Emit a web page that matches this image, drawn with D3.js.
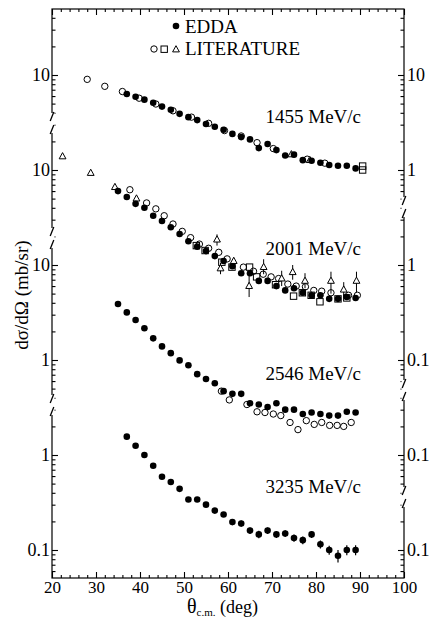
<!DOCTYPE html>
<html>
<head>
<meta charset="utf-8">
<style>
    body { margin: 0; background: #fff; }
    svg text { font-family: "Liberation Serif", "Times New Roman", serif; fill: #000; }
    .axis path { display: none; }
    .axis line { stroke: #000; stroke-width: 1.1; }
    .axis text { font-size: 18px; }
    .xaxis text { font-size: 17px; }
</style>
</head>
<body>
<svg class="chart" width="429" height="618"></svg>
<script src="https://d3js.org/d3.v7.min.js"></script>
<script>

// ---- data ----
var momenta = ["1455 MeV/c", "2001 MeV/c", "2546 MeV/c", "3235 MeV/c"];
// each panel is shifted down by one decade
var panelScale = [1, 10, 100, 1000];

// EDDA points [theta, dsigma/domega]
var edda1455 = [[37,6.3],[39,5.9],[41,5.5],[43,5.1],[45,4.65],[47,4.3],[49,3.9],[51,3.6],[53,3.35],[55,3.05],
    [57,2.85],[59,2.65],[61,2.4],[63,2.22],[65,2.1],[67,1.7],[69,1.88],[71,1.62],[73,1.42],[75,1.45],
    [77,1.27],[79,1.25],[81,1.19],[83,1.13],[85,1.11],[87,1.11],[89,1.04]];
var edda2001 = [[35,6.0],[37,5.2],[39,4.4],[41,4.0],[43,3.3],[45,2.9],[47,2.5],[49,2.12],[51,1.78],[53,1.56],
    [55,1.4],[57,1.24],[59,1.1],[61,0.97],[63,0.82],[65,0.82],[67,0.68],[69,0.68],[71,0.6],[73,0.54],
    [75,0.57],[77,0.51],[79,0.48],[81,0.48],[83,0.44],[85,0.44],[87,0.46],[89,0.45]];
var edda2546 = [[35,3.89],[37,3.17],[39,2.64],[41,2.16],[43,1.69],[45,1.39],[47,1.18],[49,0.99],[51,0.88],[53,0.71],
    [55,0.63],[57,0.57],[59,0.47],[61,0.44],[63,0.44],[65,0.35],[67,0.34],[69,0.32],[71,0.35],[73,0.30],
    [75,0.30],[77,0.27],[79,0.28],[81,0.27],[83,0.26],[85,0.26],[87,0.285],[89,0.28]];
// [theta, value, error]
var edda3235 = [[37,1.56,0],[39,1.25,0],[41,1.0,0],[43,0.77,0],[45,0.59,0],[47,0.52,0],[49,0.44,0],[51,0.34,0],
    [53,0.34,0],[55,0.30,0],[57,0.26,0],[59,0.236,0.008],[61,0.197,0.015],[63,0.19,0.014],[65,0.16,0.012],
    [67,0.146,0.013],[69,0.16,0.013],[71,0.146,0.012],[73,0.149,0.012],[75,0.134,0.012],[77,0.127,0.012],
    [79,0.146,0.012],[81,0.115,0.011],[83,0.1,0.011],[85,0.087,0.013],[87,0.1,0.012],[89,0.1,0.012]];

// literature points
var litCircles1455 = [[28,9.0],[32,7.6],[36,6.7],[39.8,5.7],[43.6,4.95],[47.5,4.2],[51.7,3.6],[55.6,3.1],
    [59.2,2.6],[63,2.28],[66.6,1.94],[70.3,1.68],[78,1.3],[82,1.18]];
var litTriangles1455 = [[74.4,1.46],[78.6,1.27]];
var litSquares1455 = [[90.6,1.0],[90.6,1.1]];

// [theta, value, low, high]
var litTriangles2001 = [[22.4,13.9,13.9,13.9],[28.8,9.3,9.3,9.3],[34.3,6.6,6.6,6.6],[39.2,5.0,5.0,5.0],
    [57.5,1.85,1.6,2.1],[58.3,0.92,0.8,1.05],[61.3,1.1,1.0,1.2],[64.8,0.6,0.46,0.8],[68.1,0.95,0.8,1.15],
    [72.2,0.72,0.6,0.87],[74.7,0.84,0.7,1.0],[77.5,0.68,0.57,0.82],[83.4,0.68,0.5,0.85],[86.3,0.55,0.45,0.66],
    [89.2,0.68,0.52,0.85]];
var litCircles2001 = [[37.7,6.2],[41.5,4.5],[43.6,3.9],[45.5,3.3],[47.5,2.7],[49.6,2.26],[51.5,1.94],[53.5,1.66],
    [55.6,1.5],[57.9,1.36],[59.8,1.16],[63.5,0.95],[65.8,0.86],[68,0.8],[69.8,0.75],[71.5,0.72],[73.6,0.63],
    [75.5,0.6],[77.6,0.59],[79.5,0.54],[81.3,0.53],[83.4,0.51],[87.4,0.48],[89.4,0.48]];
var litSquares2001 = [[52.8,1.6],[54.8,1.42],[58.6,1.07],[60.9,0.95],[64.9,0.95],[66.5,0.75],[70.8,0.62],
    [74.9,0.47],[76.9,0.51],[78.9,0.48],[80.9,0.41],[85,0.44],[87,0.45]];

var litCircles2546 = [[58.5,0.47],[60.3,0.38],[64.3,0.34],[66.6,0.285],[68.4,0.28],[70.3,0.27],[72,0.26],
    [74.1,0.22],[75.9,0.185],[77.8,0.23],[79.6,0.21],[81.3,0.22],[83.1,0.205],[84.8,0.205],[86.3,0.2],[88,0.22]];

var xTicks = [20, 30, 40, 50, 60, 70, 80, 90, 100];
var yDecades = [10, 1, 0.1, 0.01, 0.001, 0.0001];
var leftTickLabels = ["10", "10", "10", "1", "1", "0.1"];
var rightTickLabels = ["10", "1", "1", "0.1", "0.1", "0.1"];

// ---- layout ----
var plotLeft = 52, plotRight = 404, plotTop = 9, plotBottom = 578;
var chart = d3.select(".chart");

var x = d3.scaleLinear().domain([20, 100]).range([plotLeft, plotRight]);
var y = d3.scaleLog().domain([1e-4, 10]).range([550, 75]);

function py(panel, v) { return y(v / panelScale[panel]); }

var minorX = d3.range(20, 101, 2).filter(function(d) { return d % 10 !== 0; });
var minorY = [];
[1e-5, 1e-4, 1e-3, 1e-2, 0.1, 1, 10].forEach(function(d) {
    for (var k = 2; k <= 9; k++) {
        var v = d * k;
        if (y(v) > plotTop + 1 && y(v) < plotBottom - 1) minorY.push(v);
    }
});

// frame
chart.append("rect")
    .attr("x", plotLeft).attr("y", plotTop)
    .attr("width", plotRight - plotLeft).attr("height", plotBottom - plotTop)
    .attr("fill", "none").attr("stroke", "#000").attr("stroke-width", 1.2);

// x axes
chart.append("g").attr("class", "axis xaxis")
    .attr("transform", "translate(0," + plotBottom + ")")
    .call(d3.axisBottom(x).tickValues(xTicks).tickSizeInner(-6).tickSizeOuter(0).tickPadding(3));
chart.append("g").attr("class", "axis")
    .attr("transform", "translate(0," + plotBottom + ")")
    .call(d3.axisBottom(x).tickValues(minorX).tickSizeInner(-3).tickSizeOuter(0).tickFormat(""));
chart.append("g").attr("class", "axis")
    .attr("transform", "translate(0," + plotTop + ")")
    .call(d3.axisTop(x).tickValues(xTicks).tickSizeInner(-6).tickSizeOuter(0).tickFormat(""));
chart.append("g").attr("class", "axis")
    .attr("transform", "translate(0," + plotTop + ")")
    .call(d3.axisTop(x).tickValues(minorX).tickSizeInner(-3).tickSizeOuter(0).tickFormat(""));

// y axes
chart.append("g").attr("class", "axis")
    .attr("transform", "translate(" + plotLeft + ",0)")
    .call(d3.axisLeft(y).tickValues(yDecades).tickSizeInner(-6).tickSizeOuter(0).tickPadding(2)
        .tickFormat(function(d, i) { return leftTickLabels[i]; }));
chart.append("g").attr("class", "axis")
    .attr("transform", "translate(" + plotLeft + ",0)")
    .call(d3.axisLeft(y).tickValues(minorY).tickSizeInner(-3.5).tickSizeOuter(0).tickFormat(""));
chart.append("g").attr("class", "axis")
    .attr("transform", "translate(" + plotRight + ",0)")
    .call(d3.axisRight(y).tickValues(yDecades).tickSizeInner(-6).tickSizeOuter(0).tickPadding(3)
        .tickFormat(function(d, i) { return rightTickLabels[i]; }));
chart.append("g").attr("class", "axis")
    .attr("transform", "translate(" + plotRight + ",0)")
    .call(d3.axisRight(y).tickValues(minorY).tickSizeInner(-3.5).tickSizeOuter(0).tickFormat(""));

// axis breaks
function axisBreak(xa, c) {
    chart.append("rect").attr("x", xa - 2.5).attr("y", c - 10).attr("width", 5).attr("height", 20).attr("fill", "#fff");
    chart.append("line").attr("x1", xa + 1.8).attr("y1", c - 11).attr("x2", xa - 1.8).attr("y2", c - 2)
        .attr("stroke", "#000").attr("stroke-width", 1.3);
    chart.append("line").attr("x1", xa + 1.8).attr("y1", c + 2).attr("x2", xa - 1.8).attr("y2", c + 11)
        .attr("stroke", "#000").attr("stroke-width", 1.3);
}
[123, 238, 405].forEach(function(c) { axisBreak(plotLeft, c); });
[207, 390, 497].forEach(function(c) { axisBreak(plotRight, c); });

// markers
var mark = chart.append("g");

function circles(data, panel, filled) {
    mark.selectAll(null).data(data).enter().append("circle")
        .attr("cx", function(d) { return x(d[0]); })
        .attr("cy", function(d) { return py(panel, d[1]); })
        .attr("r", filled ? 3.3 : 3.2)
        .attr("fill", filled ? "#000" : "none")
        .attr("stroke", "#000").attr("stroke-width", filled ? 0 : 1);
}
function squares(data, panel) {
    mark.selectAll(null).data(data).enter().append("rect")
        .attr("x", function(d) { return x(d[0]) - 3.2; })
        .attr("y", function(d) { return py(panel, d[1]) - 3.2; })
        .attr("width", 6.4).attr("height", 6.4)
        .attr("fill", "none").attr("stroke", "#000").attr("stroke-width", 1);
}
function triangles(data, panel) {
    var g = mark.selectAll(null).data(data).enter().append("g")
        .attr("transform", function(d) { return "translate(" + x(d[0]) + "," + py(panel, d[1]) + ")"; });
    g.filter(function(d) { return d.length > 2 && d[2] !== d[3]; }).append("line")
        .attr("x1", 0).attr("x2", 0)
        .attr("y1", function(d) { return py(panel, d[2]) - py(panel, d[1]); })
        .attr("y2", function(d) { return py(panel, d[3]) - py(panel, d[1]); })
        .attr("stroke", "#000").attr("stroke-width", 1);
    g.append("path").attr("d", "M0,-3.8L3.4,2.4L-3.4,2.4Z")
        .attr("fill", "#fff").attr("stroke", "#000").attr("stroke-width", 1);
}

circles(litCircles1455, 0, false);
triangles(litTriangles1455, 0);
squares(litSquares1455, 0);
squares(litSquares2001, 1);
circles(litCircles2001, 1, false);
triangles(litTriangles2001, 1);
circles(litCircles2546, 2, false);

// EDDA error bars (3235)
mark.selectAll(null).data(edda3235.filter(function(d) { return d[2] > 0; })).enter().append("line")
    .attr("x1", function(d) { return x(d[0]); }).attr("x2", function(d) { return x(d[0]); })
    .attr("y1", function(d) { return py(3, d[1] - d[2]); })
    .attr("y2", function(d) { return py(3, d[1] + d[2]); })
    .attr("stroke", "#000").attr("stroke-width", 1.2);

circles(edda1455, 0, true);
circles(edda2001, 1, true);
circles(edda2546, 2, true);
circles(edda3235, 3, true);

// momentum labels
var labelY = [123, 255, 380, 493];
chart.selectAll(".mom").data(momenta).enter().append("text")
    .attr("class", "mom")
    .attr("x", 361).attr("y", function(d, i) { return labelY[i]; })
    .attr("text-anchor", "end").style("font-size", "19px")
    .text(function(d) { return d; });

// legend
chart.append("circle").attr("cx", 176).attr("cy", 26).attr("r", 3.3).attr("fill", "#000");
chart.append("text").attr("x", 185).attr("y", 33).style("font-size", "19px").text("EDDA");
chart.append("circle").attr("cx", 154).attr("cy", 49).attr("r", 3.2).attr("fill", "none").attr("stroke", "#000");
chart.append("rect").attr("x", 161).attr("y", 46).attr("width", 6.4).attr("height", 6.4)
    .attr("fill", "none").attr("stroke", "#000");
chart.append("path").attr("transform", "translate(176,49.5)").attr("d", "M0,-3.8L3.4,2.4L-3.4,2.4Z")
    .attr("fill", "none").attr("stroke", "#000");
chart.append("text").attr("x", 185).attr("y", 55).style("font-size", "19px").text("LITERATURE");

// axis titles
chart.append("text")
    .attr("transform", "translate(28,295) rotate(-90)")
    .attr("text-anchor", "middle").style("font-size", "19px")
    .text("dσ/dΩ (mb/sr)");

var xt = chart.append("text").attr("x", 187).attr("y", 613).style("font-size", "20px");
xt.append("tspan").text("θ");
xt.append("tspan").attr("dy", 3).style("font-size", "11px").text("c.m.");
xt.append("tspan").attr("dy", -3).style("font-size", "18px").text(" (deg)");

</script>
</body>
</html>
